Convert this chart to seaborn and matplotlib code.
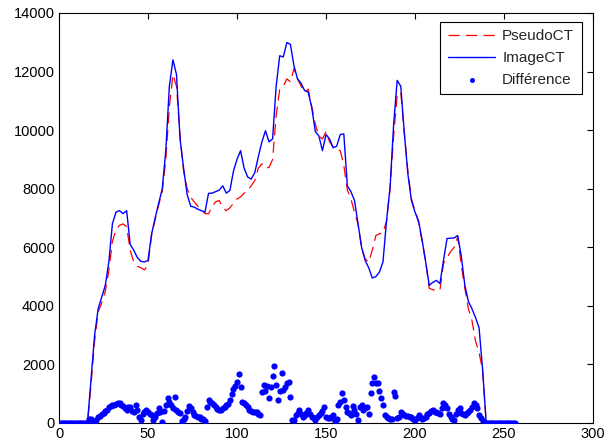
import numpy as np
import matplotlib
matplotlib.use("Agg")
import matplotlib.pyplot as plt
import seaborn as sns

# ---- data ----
x_line = list(range(0, 257, 2))
image_ct = ([0] * 9 +
            [1500, 3000, 3900, 4300, 4700, 5500, 6800, 7200, 7250, 7150,
             7250, 6100, 5900, 5650, 5520, 5500, 5550, 6450, 7000, 7500,
             8000, 9300, 11500, 12400, 11900, 9700, 8700, 7800, 7400, 7370,
             7300, 7250, 7200, 7840, 7850, 7900, 7950, 8100, 7850, 7940,
             8600, 9000, 9300, 8700, 8400, 8330, 8550, 9100, 9600, 9980,
             9600, 9700, 11500, 12540, 12500, 12990, 12930, 12200, 11750, 11600,
             11350, 11300, 10770, 9950, 9800, 9300, 9850, 9700, 9400, 9450,
             9850, 9870, 8100, 7900, 7600, 6800, 6000, 5550, 5300, 4950,
             5000, 5150, 5500, 6900, 8050, 10200, 11700, 11500, 9900, 8500,
             7600, 7200, 6900, 6250, 5500, 4700, 4800, 4870, 4760, 5550,
             6300, 6310, 6320, 6400, 5700, 4700, 4150, 3900, 3600, 3250,
             1810] +
            [0] * 9)
pseudo_ct = ([0] * 9 +
             [1300, 2800, 3800, 4100, 4500, 5200, 6200, 6600, 6750, 6800,
              6700, 5900, 5500, 5350, 5300, 5230, 5400, 6400, 6950, 7450,
              7900, 9000, 10800, 11900, 11500, 9800, 8600, 8000, 7700, 7550,
              7400, 7300, 7150, 7140, 7400, 7550, 7600, 7350, 7250, 7350,
              7500, 7650, 7720, 7850, 7940, 8100, 8280, 8700, 8850, 8700,
              8730, 9000, 10500, 11400, 11500, 11750, 11650, 12100, 11750, 11500,
              11300, 11400, 10800, 10200, 9800, 9700, 9950, 9600, 9420, 9350,
              9300, 8800, 7950, 7650, 7200, 6800, 6000, 5600, 5490, 5900,
              6400, 6460, 6480, 6900, 8000, 9800, 11200, 11300, 9900, 8600,
              7650, 7250, 6850, 6200, 5500, 4600, 4550, 4530, 4530, 5450,
              5650, 5850, 6000, 6350, 5400, 4600, 3900, 3500, 2800, 2400,
              1800] +
             [0] * 9)

x_diff = list(range(0, 257))
difference = ([0] * 17 +
              [150, 120, 80, 60, 100, 190, 250, 300, 330, 400,
               460, 540, 580, 610, 600, 650, 670, 690, 620, 580,
               500, 460, 530, 560, 420, 390, 610, 460, 190, 100,
               300, 380, 450, 360, 300, 270, 100, 210, 330, 500,
               360, 40, 420, 600, 840, 730, 610, 500, 900, 450,
               380, 330, 70, 150, 210, 400, 580, 500, 390, 270,
               240, 210, 190, 150, 120, 60, 560, 780, 720, 690,
               600, 530, 480, 450, 460, 500, 560, 600, 650, 800,
               990, 1150, 1260, 1400, 1690, 1240, 730, 680, 610, 530,
               450, 420, 390, 370, 360, 300, 270, 1070, 1290, 1100,
               1250, 840, 1230, 1600, 1950, 1290, 800, 1100, 1700, 1130,
               1230, 1370, 1410, 880, 100, 100, 270, 330, 440, 300,
               190, 260, 330, 440, 300, 220, 160, 100, 200, 270,
               330, 410, 560, 190, 160, 160, 200, 270, 80, 150,
               600, 730, 1020, 790, 560, 390, 330, 280, 580, 440,
               300, 100, 560, 610, 440, 500, 560, 300, 1020, 1350,
               1580, 1370, 1350, 1100, 840, 600, 270, 200, 160, 140,
               120, 1070, 920, 160, 200, 360, 300, 270, 250, 240,
               200, 190, 150, 100, 180, 270, 200, 120, 170, 220,
               300, 330, 400, 440, 390, 360, 330, 300, 500, 670,
               610, 500, 300, 190, 150, 100, 300, 440, 500, 330,
               300, 270, 330, 390, 450, 530, 690, 600, 500, 270,
               160, 80, 30] +
              [0] * 17)

x_ticks = [0, 50, 100, 150, 200, 250, 300]
y_ticks = [0, 2000, 4000, 6000, 8000, 10000, 12000, 14000]
labels = ["PseudoCT", "ImageCT", "Différence"]

# ---- style ----
sns.set_style("white")
plt.rcParams["font.family"] = ["Liberation Sans", "DejaVu Sans"]
plt.rcParams["xtick.direction"] = "in"
plt.rcParams["ytick.direction"] = "in"

fig = plt.figure(figsize=(6.05, 4.46), dpi=100)
ax = fig.add_axes([59 / 605, 1 - 423 / 446, (593 - 59) / 605, (423 - 13) / 446])

sns.lineplot(x=x_line, y=pseudo_ct, ax=ax, color="#ff0000", linewidth=0.9,
             linestyle=(0, (9, 5)), label=labels[0], estimator=None, sort=False)
sns.lineplot(x=x_line, y=image_ct, ax=ax, color="#0000ff", linewidth=1.0,
             label=labels[1], estimator=None, sort=False)
sns.scatterplot(x=x_diff, y=difference, ax=ax, color="#0000ff", s=20,
                linewidth=0, marker="o", label=labels[2], zorder=3)

ax.set_xlim(0, 300)
ax.set_ylim(0, 14000)
ax.set_xticks(x_ticks)
ax.set_yticks(y_ticks)
ax.set_xticklabels([str(v) for v in x_ticks])
ax.set_yticklabels([str(v) for v in y_ticks])
ax.tick_params(axis="both", which="both", direction="in", length=4, width=0.8,
               top=True, right=True, labelsize=10.5, colors="black", pad=3)
for sp in ax.spines.values():
    sp.set_color("black")
    sp.set_linewidth(0.8)

leg = ax.legend(loc="upper right", bbox_to_anchor=(0.979, 0.979), borderaxespad=0,
                fontsize=11, handlelength=3.1, labelspacing=0.5,
                fancybox=False, framealpha=1, edgecolor="black",
                borderpad=0.5, handletextpad=0.45, markerscale=0.8)
leg.get_frame().set_linewidth(0.8)

fig.savefig("out.png", dpi=100)
